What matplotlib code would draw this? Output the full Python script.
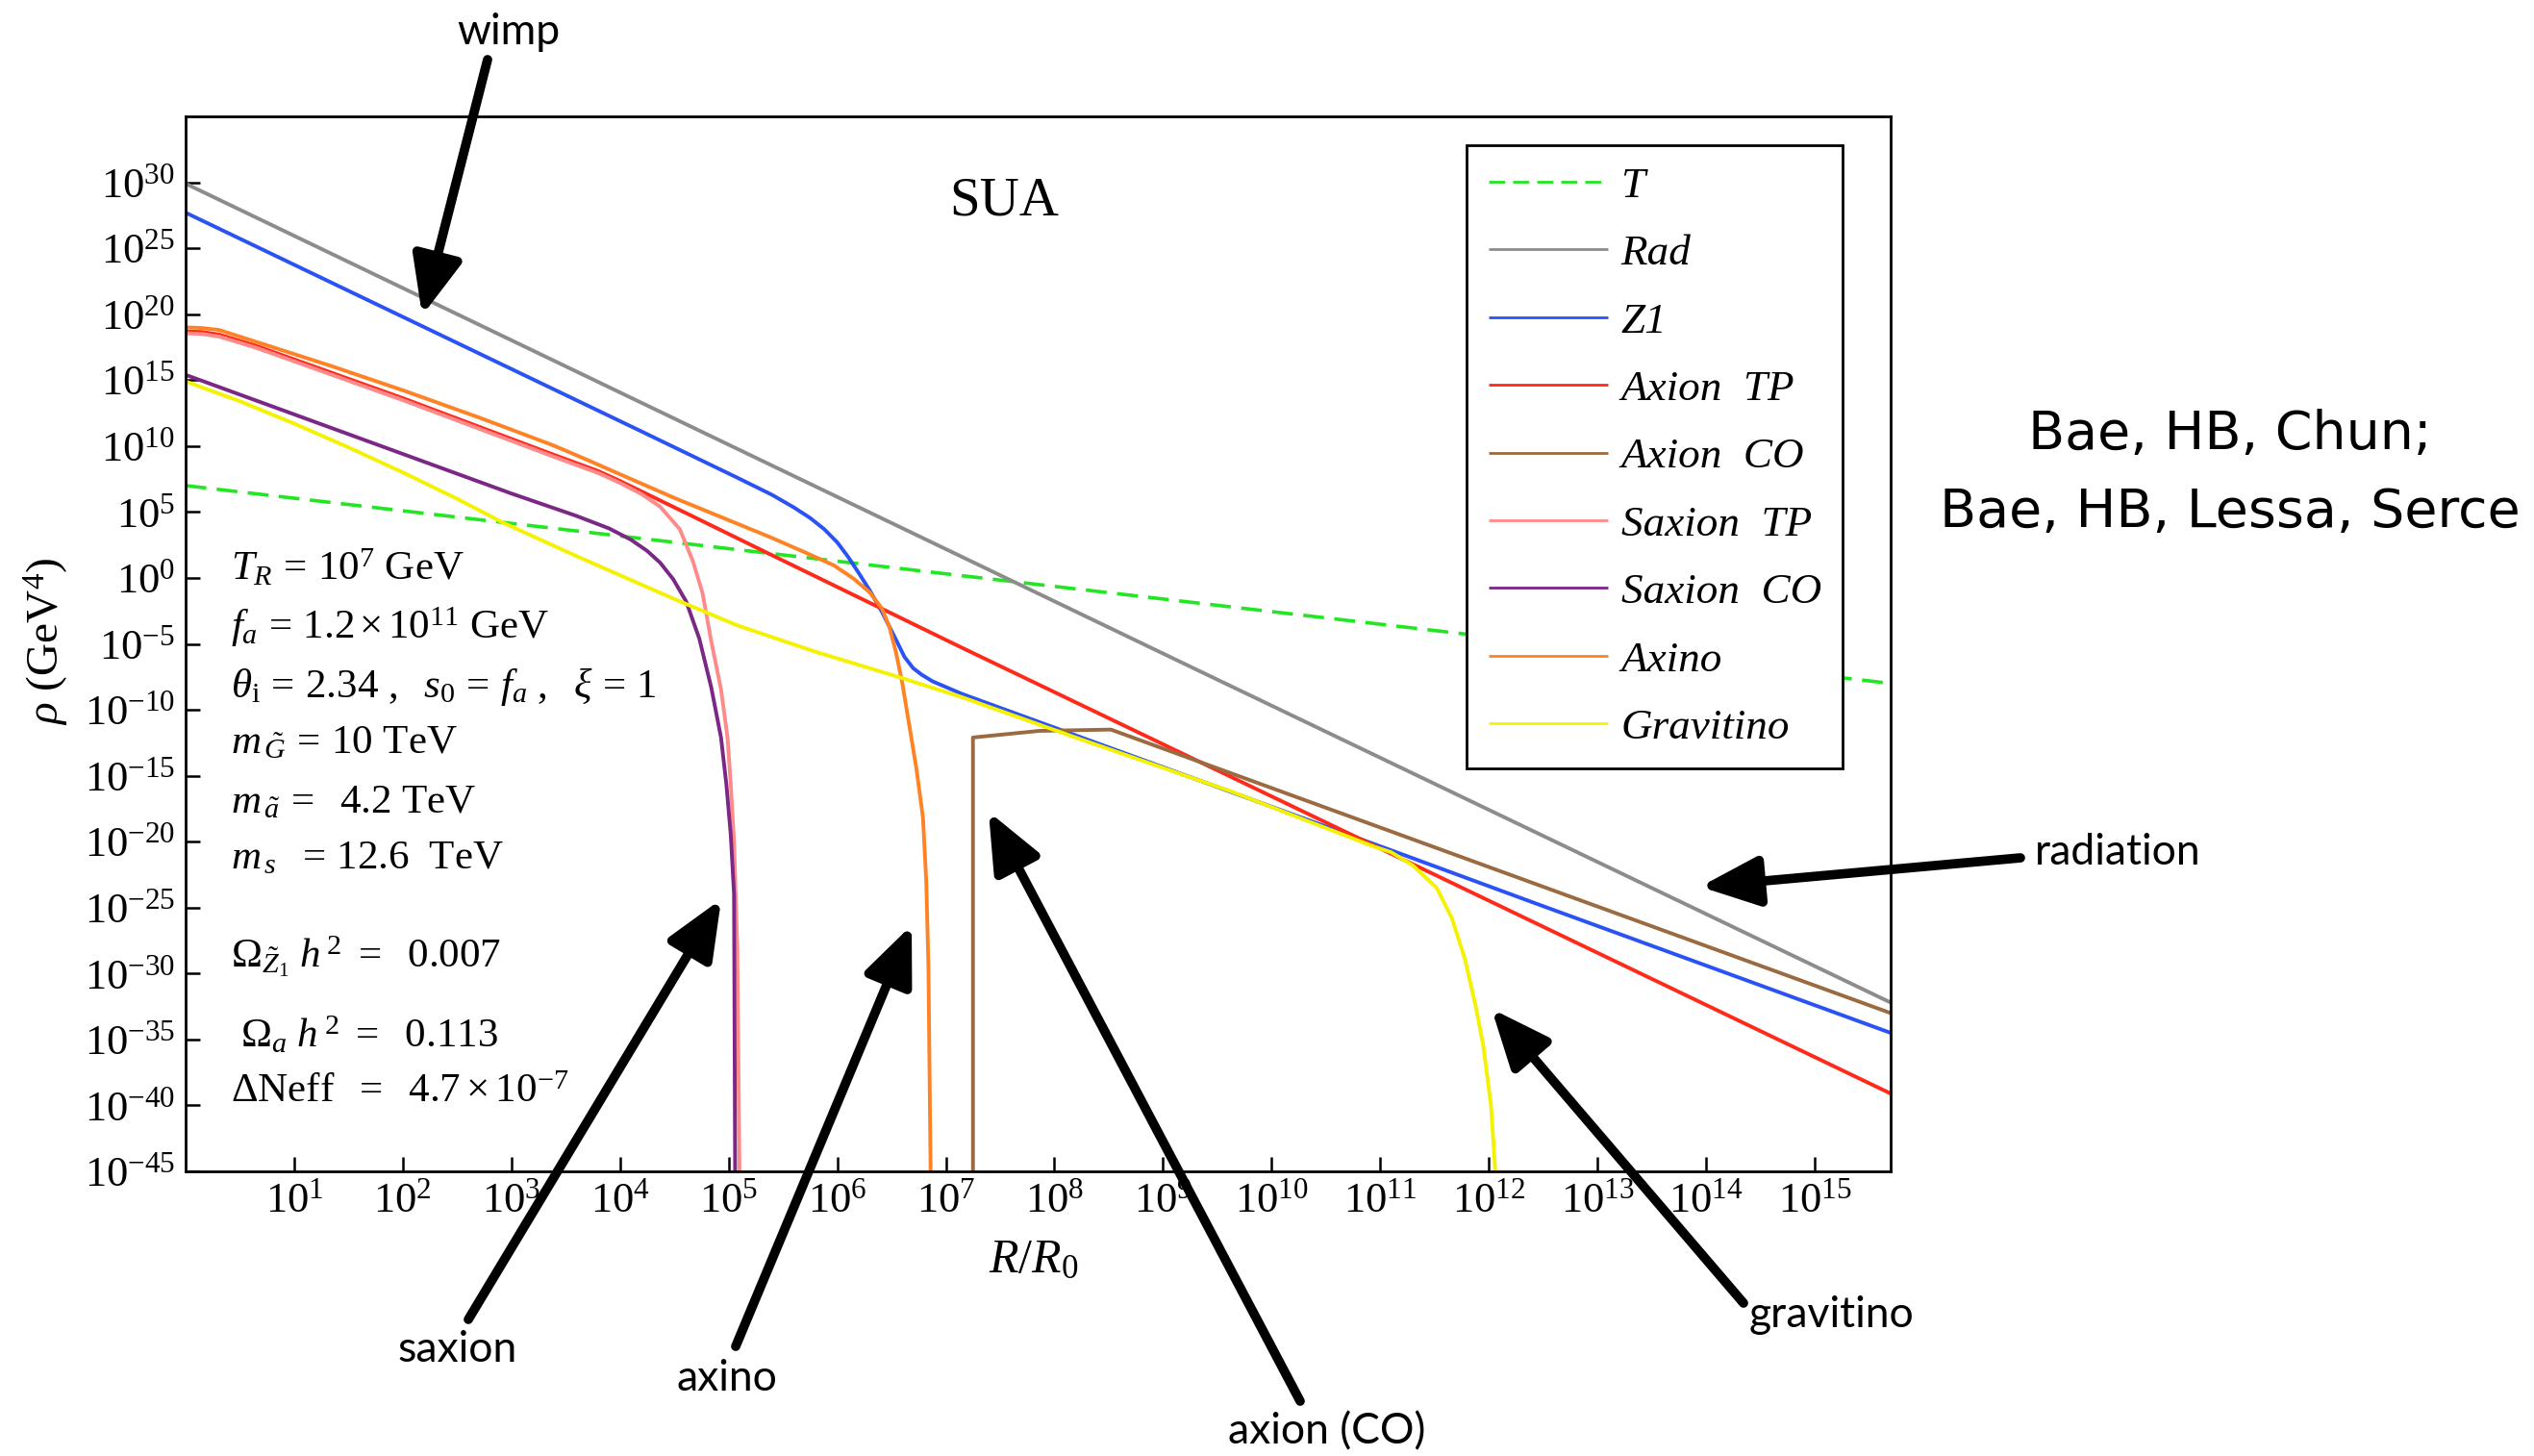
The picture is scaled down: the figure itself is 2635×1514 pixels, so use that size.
import matplotlib
matplotlib.use("Agg")
import matplotlib.pyplot as plt
import numpy as np
from matplotlib.patches import FancyArrowPatch
from matplotlib.ticker import FixedLocator, LogFormatterSciNotation, NullLocator

plt.rcParams['font.family'] = ['Liberation Serif', 'DejaVu Serif']
plt.rcParams['mathtext.fontset'] = 'custom'
plt.rcParams['mathtext.rm'] = 'Liberation Serif'
plt.rcParams['mathtext.it'] = 'Liberation Serif:italic'
plt.rcParams['mathtext.bf'] = 'Liberation Serif:bold'

# ---- data: log10(R/R0) and log10(rho / GeV^4) ----
t_x = [0.0, 7.85, 15.7]
t_y = [7.0, -0.5, -8.0]

rad_x = [0.0, 9.32, 15.7]
rad_y = [29.9, -7.0, -32.2]

z1_x = [0.0, 4.20, 5.08, 5.40, 5.60, 5.75, 5.88, 6.0, 6.10, 6.20, 6.30, 6.41, 6.53,
        6.62, 6.70, 6.78, 6.88, 7.15, 11.05, 12.47, 15.7]
z1_y = [27.7, 11.1, 7.6, 6.3, 5.35, 4.55, 3.7, 2.7, 1.6, 0.35, -0.95, -2.55, -4.5,
        -6.0, -6.85, -7.35, -7.85, -8.8, -20.5, -24.8, -34.5]

axtp_x = [0.0, 0.15, 0.31, 0.65, 1.33, 2.01, 2.69, 3.37, 3.8, 4.0, 4.2, 4.4, 4.6, 5.38,
          7.15, 15.7]
axtp_y = [18.7, 18.65, 18.45, 17.6, 15.6, 13.6, 11.5, 9.4, 8.1, 7.35, 6.55, 5.75, 4.95,
          1.8, -5.3, -39.1]

axco_x = [7.25, 7.25, 7.86, 8.52, 15.7]
axco_y = [-45.0, -12.1, -11.6, -11.5, -33.0]

sxtp_x = [0.0, 0.15, 0.31, 0.65, 1.33, 2.01, 2.69, 3.37, 3.8, 4.0, 4.2, 4.37, 4.55, 4.67,
          4.76, 4.84, 4.93, 4.99, 5.02, 5.05, 5.08, 5.10]
sxtp_y = [18.55, 18.5, 18.3, 17.45, 15.45, 13.45, 11.35, 9.25, 7.95, 7.2, 6.35, 5.4, 3.7,
          1.3, -1.15, -4.8, -8.45, -12.1, -15.7, -20.0, -28.0, -45.0]

sxco_x = [0.0, 1.0, 2.0, 3.0, 3.6, 3.9, 4.1, 4.25, 4.37, 4.49, 4.61, 4.73, 4.84, 4.93,
          4.98, 5.02, 5.05, 5.06]
sxco_y = [15.4, 12.4, 9.4, 6.4, 4.7, 3.75, 2.9, 2.05, 1.15, -0.1, -1.8, -4.6, -8.3,
          -12.1, -15.7, -19.5, -24.0, -45.0]

axino_x = [0.0, 0.15, 0.31, 0.65, 1.33, 2.01, 2.69, 3.37, 3.6, 4.49, 5.38, 5.7, 5.97,
           6.15, 6.30, 6.41, 6.48, 6.54, 6.60, 6.67, 6.73, 6.79, 6.82, 6.84, 6.86]
axino_y = [19.0, 18.95, 18.8, 17.9, 16.1, 14.2, 12.2, 10.1, 9.3, 6.1, 3.1, 1.95, 0.95,
           -0.05, -1.1, -2.3, -3.7, -5.6, -8.0, -11.5, -14.5, -18.2, -23.0, -29.5, -45.0]

grav_x = [0.0, 0.5, 1.0, 1.5, 2.0, 2.5, 2.92, 3.6, 4.5, 5.08, 5.8, 6.56, 7.15, 8.16,
          9.63, 10.95, 11.1, 11.3, 11.52, 11.66, 11.78, 11.88, 11.95, 12.02, 12.06]
grav_y = [14.9, 13.4, 11.7, 9.9, 8.0, 6.0, 4.2, 1.65, -1.6, -3.6, -5.6, -7.5, -9.05,
          -12.0, -16.2, -20.4, -20.8, -21.8, -23.5, -25.8, -28.9, -32.5, -35.5, -40.0, -45.0]

labels = ['T', 'Rad', 'Z1', 'Axion  TP', 'Axion  CO', 'Saxion  TP', 'Saxion  CO',
          'Axino', 'Gravitino']
colors = ['#22e622', '#8c8c8c', '#2a52f5', '#ff2a1a', '#9c6a40', '#ff8a8a', '#7a2785',
          '#ff8224', '#f5f200']

series = [(t_x, t_y), (rad_x, rad_y), (z1_x, z1_y), (axtp_x, axtp_y), (axco_x, axco_y),
          (sxtp_x, sxtp_y), (sxco_x, sxco_y), (axino_x, axino_y), (grav_x, grav_y)]

yticks_exp = list(range(-45, 31, 5))
xticks_exp = list(range(1, 16))

info_lines = [
    r'$T_R\, =\, 10^{7}\ \mathrm{GeV}$',
    r'$f_a\, =\, 1.2\,{\times}\,10^{11}\ \mathrm{GeV}$',
    r'$\theta_{\mathrm{i}}\, =\, 2.34\ ,\ \ s_0\, =\, f_a\ ,\ \ \xi\, =\, 1$',
    r'$m_{\,\tilde{G}}\, =\, 10\ \mathrm{TeV}$',
    r'$m_{\,\tilde{a}}\, =\ \ 4.2\ \mathrm{TeV}$',
    r'$m_{\,s}\ \ =\, 12.6\ \ \mathrm{TeV}$',
    r'$\Omega_{\tilde{Z}_1}\ h^{\,2}\ =\ \ 0.007$',
    r'$\ \Omega_a\ h^{\,2}\ =\ \ 0.113$',
    r'$\Delta\mathrm{Neff}\ \ =\ \ 4.7\times 10^{-7}$',
]

W, H = 2635, 1514
fig = plt.figure(figsize=(W / 100, H / 100), dpi=100)
ax_l, ax_r, ax_t, ax_b = 193, 1966, 121, 1218
ax = fig.add_axes([ax_l / W, 1 - ax_b / H, (ax_r - ax_l) / W, (ax_b - ax_t) / H])


def fpx(x, y):
    return (x / W, 1 - y / H)


for (xs, ys), lab, col in zip(series, labels, colors):
    xv = 10.0 ** np.asarray(xs)
    yv = 10.0 ** np.asarray(ys)
    if lab == 'T':
        ax.plot(xv, yv, color=col, lw=2.6, ls=(0, (6, 3)), label=lab)
    else:
        ax.plot(xv, yv, color=col, lw=2.8, label=lab, solid_capstyle='butt',
                solid_joinstyle='round')

ax.set_xscale('log')
ax.set_yscale('log')
ax.set_xlim(1, 10 ** 15.7)
ax.set_ylim(1e-45, 1e35)
ax.xaxis.set_major_locator(FixedLocator([10.0 ** e for e in xticks_exp]))
ax.yaxis.set_major_locator(FixedLocator([10.0 ** e for e in yticks_exp]))
ax.xaxis.set_minor_locator(NullLocator())
ax.yaxis.set_minor_locator(NullLocator())
ax.xaxis.set_major_formatter(LogFormatterSciNotation())
ax.yaxis.set_major_formatter(LogFormatterSciNotation())
ax.tick_params(axis='both', which='major', direction='in', length=11, width=1.8,
               labelsize=32, pad=8, top=False, right=False)
for s in ax.spines.values():
    s.set_linewidth(2.0)

leg = ax.legend(loc='upper right', bbox_to_anchor=(0.972, 0.973), borderaxespad=0,
                frameon=True, fancybox=False, edgecolor='black', framealpha=1,
                prop={'family': 'Liberation Serif', 'style': 'italic', 'size': 32.5},
                handlelength=2.75, handletextpad=0.3, labelspacing=0.66, borderpad=0.5)
leg.get_frame().set_linewidth(2.0)
for ln in leg.get_lines():
    ln.set_linewidth(2.0)

fig.text(*fpx(1044, 210), 'SUA', ha='center', va='center', fontsize=41)

info_y = [591, 652, 714, 773, 835, 893, 995, 1077, 1136]
for s, yy in zip(info_lines, info_y):
    fig.text(240 / W, 1 - yy / H, s, ha='left', va='center', fontsize=31)

fig.text(1075 / W, 1 - 1311 / H, r'$R/R_0$', ha='center', va='center', fontsize=36)
fig.text(48 / W, 1 - 667 / H, r'$\rho$ (GeV$^4$)', ha='center', va='center',
         fontsize=34, rotation=90)

# ---- hand annotations ----
ann_font = ['Lato', 'DejaVu Sans']
arrows = [
    ((507, 62), (439, 328)),     # wimp
    ((487, 1372), (750, 935)),   # saxion
    ((765, 1400), (948, 962)),   # axino
    ((1352, 1457), (1028, 844)), # axion (CO)
    ((1813, 1355), (1551, 1049)),# gravitino
    ((2101, 892), (1768, 922)),  # radiation
]
for tail, tip in arrows:
    fig.add_artist(FancyArrowPatch(posA=fpx(*tail), posB=fpx(*tip),
                                   transform=fig.transFigure,
                                   arrowstyle='-|>,head_length=0.8,head_width=0.34',
                                   mutation_scale=46, lw=7, color='black',
                                   shrinkA=0, shrinkB=0))

ann_text = [
    ('wimp', 529, 34, 'center'),
    ('saxion', 476, 1403, 'center'),
    ('axino', 756, 1434, 'center'),
    ('axion (CO)', 1380, 1489, 'center'),
    ('gravitino', 1904, 1367, 'center'),
    ('radiation', 2116, 886, 'left'),
]
for s, x, y, ha in ann_text:
    fig.text(x / W, 1 - y / H, s, ha=ha, va='center', fontsize=32, family=ann_font)

fig.text(2319 / W, 1 - 452 / H, 'Bae, HB, Chun;', ha='center', va='center', fontsize=40,
         family=['DejaVu Sans'])
fig.text(2319 / W, 1 - 533 / H, 'Bae, HB, Lessa, Serce', ha='center', va='center',
         fontsize=40, family=['DejaVu Sans'])

fig.savefig('out.png', dpi=100, facecolor='white')
